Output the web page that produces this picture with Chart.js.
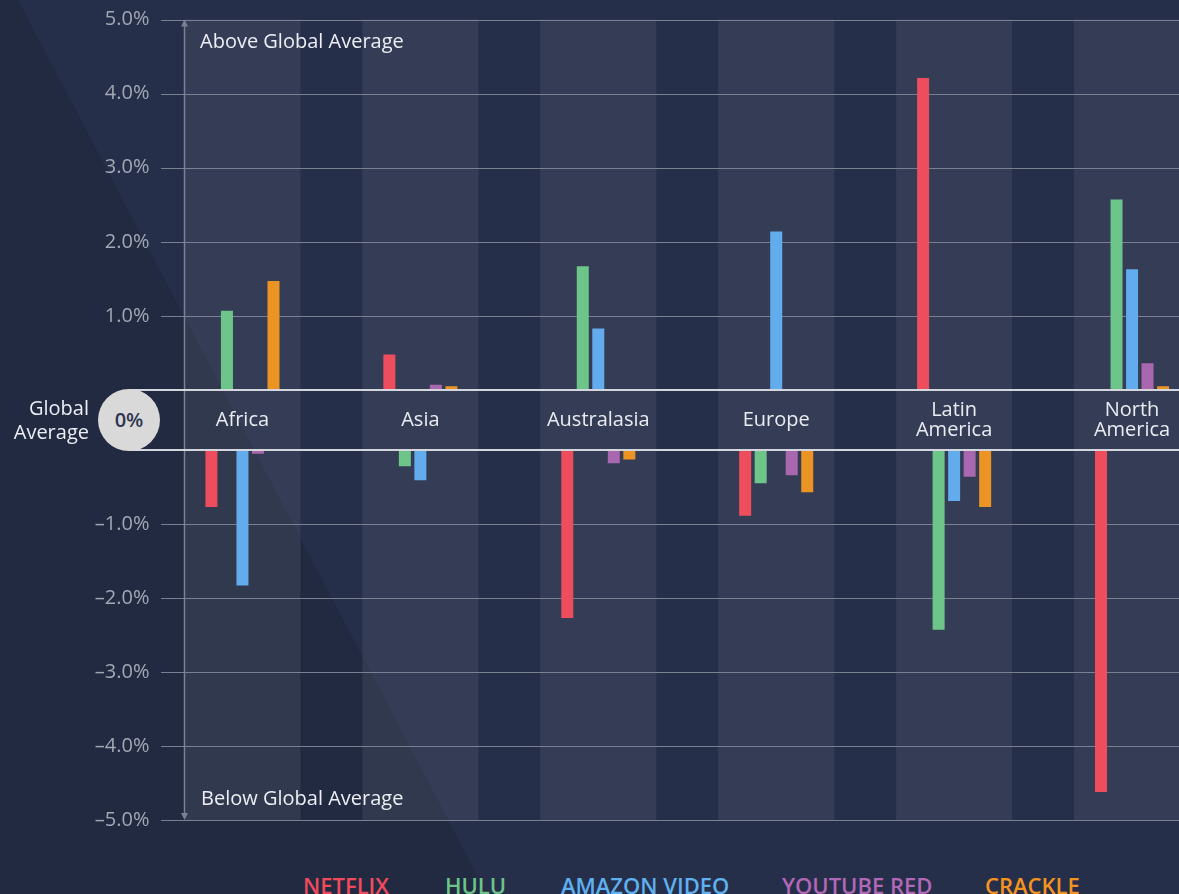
<!DOCTYPE html>
<html>
<head>
<meta charset="utf-8">
<script src="https://cdn.jsdelivr.net/npm/chart.js@4/dist/chart.umd.min.js"></script>
<style>
  html, body { margin: 0; padding: 0; }
  body { width: 1179px; height: 894px; overflow: hidden; background: #262f4a; font-family: "Open Sans", sans-serif; }
  #wrap { position: relative; width: 1179px; height: 894px; overflow: hidden; background: #262f4a; }
  #shade { position: absolute; left: 0; top: 0; width: 1179px; height: 894px; background: #212a41;
           clip-path: polygon(0 0, 18px 0, 487px 894px, 0 894px); }
  canvas { position: absolute; left: 0; }
  #cTop { top: 0; }
  #cBot { top: 430px; }
  .note { position: absolute; color: #eceef3; font-size: 20px; line-height: 20px; white-space: nowrap; }
  #above { left: 200px; top: 31px; }
  #below { left: 201px; top: 788px; }
  #gavg { position: absolute; left: 0; width: 89px; top: 396px; text-align: right; color: #eceef3; font-size: 20px; line-height: 24px; }
  #zero { position: absolute; left: 98px; top: 389px; width: 62px; height: 62px; border-radius: 50%; background: #d9d9d9;
          color: #2e3550; font-size: 20px; font-weight: 600; line-height: 62px; text-align: center; }
  .leg { position: absolute; top: 874px; font-size: 22px; line-height: 22px; font-weight: 600; white-space: nowrap; }
</style>
</head>
<body>
<div id="wrap">
  <div id="shade"></div>
  <canvas id="cTop" width="1221" height="451"></canvas>
  <canvas id="cBot" width="1221" height="410"></canvas>
  <div class="note" id="above">Above Global Average</div>
  <div class="note" id="below">Below Global Average</div>
  <div id="gavg">Global<br>Average</div>
  <div id="zero">0%</div>
  <div id="legend"></div>
</div>
<script>
// ---------- data ----------
const categories = ['Africa', 'Asia', 'Australasia', 'Europe', ['Latin', 'America'], ['North', 'America']];
const seriesNames = ['NETFLIX', 'HULU', 'AMAZON VIDEO', 'YOUTUBE RED', 'CRACKLE'];
const netflix = [-0.77, 0.48, -2.27, -0.89, 4.21, -4.62];
const hulu    = [1.07, -0.22, 1.67, -0.45, -2.43, 2.57];
const amazon  = [-1.83, -0.41, 0.83, 2.14, -0.69, 1.63];
const youtube = [-0.05, 0.07, -0.18, -0.34, -0.36, 0.36];
const crackle = [1.47, 0.05, -0.13, -0.57, -0.77, 0.05];
const upperTicks = [0, 1, 2, 3, 4, 5];
const lowerTicks = [-5, -4, -3, -2, -1, 0];

// ---------- styles ----------
const colors = ['#ee4d5d', '#6ec58a', '#62abec', '#a867ae', '#ec9423'];
const legendColors = ['#f04a5c', '#6cc489', '#5eb0f0', '#b267b8', '#f5931f'];
const legendLeft = [303, 445, 561, 782, 985];
const seriesValues = [netflix, hulu, amazon, youtube, crackle];
const GRID = '#7a8092';
const ZERO = '#d3d6dc';
const AXIS = '#7b8193';
const BAND_FRAC = 0.652;
const Y_AXIS_W = 153.5;

Chart.defaults.font.family = '"Open Sans", sans-serif';

// legend (HTML text)
const legendEl = document.getElementById('legend');
seriesNames.forEach((n, i) => {
  const s = document.createElement('div');
  s.className = 'leg';
  s.textContent = n;
  s.style.left = legendLeft[i] + 'px';
  s.style.color = legendColors[i];
  legendEl.appendChild(s);
});

function fmt(v) {
  if (v === 0) return null;
  return (v < 0 ? '\u2013' : '') + Math.abs(v).toFixed(1) + '%';
}

const decor = {
  id: 'decor',
  beforeDatasetsDraw(chart, args, opts) {
    const { ctx, chartArea, scales: { x, y } } = chart;
    const w = x.width / categories.length;
    const half = w * BAND_FRAC / 2;
    const top = chartArea.top;
    const bottom = opts.upper ? chart.height : chartArea.bottom;
    ctx.save();
    ctx.fillStyle = 'rgba(255,255,255,0.072)';
    categories.forEach((c, i) => {
      const cx = x.getPixelForValue(i);
      ctx.fillRect(cx - half, top, half * 2, bottom - top);
    });
    // gridlines
    ctx.strokeStyle = GRID;
    ctx.lineWidth = 1;
    y.ticks.forEach(t => {
      if (t.value === 0) return;
      const py = Math.round(y.getPixelForValue(t.value)) + 0.5;
      ctx.beginPath();
      ctx.moveTo(161, py);
      ctx.lineTo(chart.width, py);
      ctx.stroke();
    });
    // vertical axis with arrow
    const ax = Math.round(x.getPixelForValue(0) - half) + 0.5;
    ctx.strokeStyle = AXIS;
    ctx.fillStyle = AXIS;
    ctx.lineWidth = 1.5;
    ctx.beginPath();
    if (opts.upper) {
      ctx.moveTo(ax, chartArea.top + 2);
      ctx.lineTo(ax, chart.height);
    } else {
      ctx.moveTo(ax, chartArea.top);
      ctx.lineTo(ax, chartArea.bottom - 2);
    }
    ctx.stroke();
    ctx.beginPath();
    if (opts.upper) {
      const t = chartArea.top;
      ctx.moveTo(ax, t); ctx.lineTo(ax - 3.5, t + 7); ctx.lineTo(ax + 3.5, t + 7);
    } else {
      const b = chartArea.bottom;
      ctx.moveTo(ax, b); ctx.lineTo(ax - 3.5, b - 7); ctx.lineTo(ax + 3.5, b - 7);
    }
    ctx.closePath();
    ctx.fill();
    ctx.restore();
  },
  afterDatasetsDraw(chart, args, opts) {
    const { ctx, scales: { y } } = chart;
    const py = y.getPixelForValue(0);
    ctx.save();
    ctx.strokeStyle = ZERO;
    ctx.lineWidth = 2;
    ctx.beginPath();
    ctx.moveTo(128, py);
    ctx.lineTo(chart.width, py);
    ctx.stroke();
    ctx.restore();
  }
};

function makeChart(id, upper) {
  const ticksArr = upper ? upperTicks : lowerTicks;
  return new Chart(document.getElementById(id), {
    type: 'bar',
    data: {
      labels: categories,
      datasets: seriesNames.map((n, i) => ({
        label: n,
        data: seriesValues[i].map(v => (upper ? (v > 0 ? v : null) : (v < 0 ? v : null))),
        backgroundColor: colors[i],
        borderWidth: 0,
        barPercentage: 0.774,
        categoryPercentage: 0.436
      }))
    },
    options: {
      responsive: false,
      devicePixelRatio: 1,
      animation: false,
      layout: { padding: upper ? { top: 19.5, right: 0, bottom: 0, left: 0 } : { top: 20, right: 0, bottom: 20, left: 0 } },
      plugins: {
        legend: { display: false },
        tooltip: { enabled: false },
        decor: { upper: upper }
      },
      scales: {
        x: {
          display: upper,
          grid: { display: false, drawTicks: false },
          border: { display: false },
          ticks: {
            color: '#e9ebf0',
            font: { size: 20, lineHeight: 1.0 },
            padding: 20,
            crossAlign: 'center',
            maxRotation: 0,
            autoSkip: false
          },
          afterFit: (s) => { if (upper) s.height = 61; else s.height = 0; }
        },
        y: {
          min: ticksArr[0],
          max: ticksArr[ticksArr.length - 1],
          afterBuildTicks: (s) => { s.ticks = ticksArr.map(v => ({ value: v })); },
          grid: { display: false, drawTicks: false },
          border: { display: false },
          ticks: {
            color: '#a2a7b4',
            font: { size: 20 },
            padding: 4,
            callback: (v) => fmt(v)
          },
          afterFit: (s) => { s.width = Y_AXIS_W; }
        }
      }
    },
    plugins: [decor]
  });
}

makeChart('cTop', true);
makeChart('cBot', false);
</script>
</body>
</html>
